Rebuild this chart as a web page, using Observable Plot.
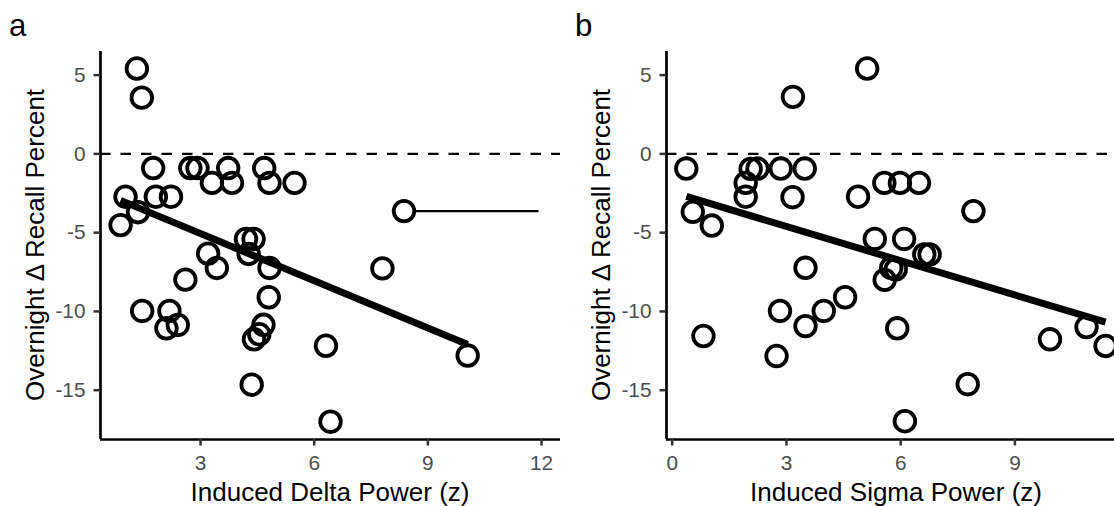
<!DOCTYPE html>
<html><head><meta charset="utf-8">
<script src="https://cdn.jsdelivr.net/npm/d3@7"></script>
<script src="https://cdn.jsdelivr.net/npm/@observablehq/plot@0.6"></script>
<style>
html,body{margin:0;padding:0;background:#fff;overflow:hidden}
#wrap{position:relative;width:1114px;height:506px;overflow:hidden;background:#fff}
#wrap svg{position:absolute;top:0}
</style></head><body><div id="wrap"></div>
<script>
// Panel a: induced delta power vs overnight change in recall
const deltaX = [1.32, 1.45, 1.75, 2.73, 2.92, 3.30, 3.73, 3.83, 4.68, 4.82, 5.48, 1.02, 1.82, 2.22, 0.89, 1.35, 8.37, 4.20, 4.40, 4.27, 3.20, 3.43, 4.82, 7.80, 2.60, 4.80, 1.46, 2.18, 2.10, 2.40, 4.66, 4.55, 4.41, 6.31, 10.05, 4.35, 6.43];
const deltaY = [5.42, 3.57, -0.90, -0.90, -0.90, -1.84, -0.90, -1.84, -0.90, -1.84, -1.84, -2.72, -2.72, -2.72, -4.52, -3.70, -3.63, -5.40, -5.40, -6.35, -6.33, -7.24, -7.24, -7.27, -7.98, -9.10, -9.97, -9.97, -11.07, -10.86, -10.85, -11.45, -11.77, -12.18, -12.80, -14.65, -17.00];
const deltaFitX = [0.89, 10.05];
const deltaFitY = [-2.95, -12.10];
const deltaSegX = [8.67, 11.92];
const deltaSegY = -3.63;

// Panel b: induced sigma power vs overnight change in recall
const sigmaX = [5.12, 3.17, 0.37, 2.06, 2.24, 2.85, 3.48, 1.93, 1.93, 3.16, 4.88, 5.57, 5.98, 6.48, 0.54, 1.04, 7.91, 5.32, 6.09, 6.62, 6.76, 3.50, 5.58, 5.87, 5.75, 4.54, 2.83, 3.98, 3.50, 0.82, 5.91, 2.74, 9.92, 10.88, 11.38, 7.76, 6.11];
const sigmaY = [5.42, 3.62, -0.93, -0.95, -0.93, -0.93, -0.93, -1.84, -2.72, -2.75, -2.72, -1.84, -1.84, -1.84, -3.68, -4.55, -3.63, -5.40, -5.40, -6.38, -6.38, -7.23, -8.00, -7.33, -7.24, -9.10, -9.97, -9.97, -10.93, -11.56, -11.07, -12.83, -11.77, -10.99, -12.19, -14.62, -16.97];
const sigmaFitX = [0.37, 11.38];
const sigmaFitY = [-2.70, -10.68];

const yTicks = [-15, -10, -5, 0, 5];
const deltaTicks = [3, 6, 9, 12];
const sigmaTicks = [0, 3, 6, 9];
const yTitle = "Overnight \u0394 Recall Percent";
const FONT = "'Liberation Sans', Arial, Helvetica, sans-serif";
const yDomain = [-18.13, 6.5];

function panel({tag, xs, ys, fitX, fitY, xDomain, xTicks, xTitle, segX, segY, left}) {
  const pts = xs.map((x, i) => ({x, y: ys[i]}));
  const fit = fitX.map((x, i) => ({x, y: fitY[i]}));
  const marks = [
    Plot.ruleY([0], {stroke: "black", strokeWidth: 2.4, strokeDasharray: "10.5,10"}),
    Plot.dot(pts, {x: "x", y: "y", r: 10.3, stroke: "black", strokeWidth: 3.8, fill: "none"}),
    Plot.line(fit, {x: "x", y: "y", stroke: "black", strokeWidth: 7, strokeLinecap: "butt"}),
    Plot.ruleX([xDomain[0]], {stroke: "black", strokeWidth: 2.7}),
    Plot.ruleY([yDomain[0]], {stroke: "black", strokeWidth: 2.7}),
    Plot.axisX({ticks: xTicks, tickSize: 6.5, tickPadding: 9.2, fontSize: 20.8, fill: "#4d4d4d", stroke: "#333", strokeWidth: 2.5, label: null, tickFormat: d => String(d)}),
    Plot.axisY({ticks: yTicks, tickSize: 6.5, tickPadding: 8.5, fontSize: 20.8, fill: "#4d4d4d", stroke: "#333", strokeWidth: 2.5, label: null, tickFormat: d => String(d)})
  ];
  if (segX) marks.push(Plot.link([{x1: segX[0], x2: segX[1], y: segY}], {x1: "x1", x2: "x2", y1: "y", y2: "y", stroke: "black", strokeWidth: 2.4}));
  const svg = Plot.plot({
    width: 566, height: 506,
    marginLeft: 100, marginRight: 6, marginTop: 51, marginBottom: 67,
    x: {domain: xDomain},
    y: {domain: yDomain},
    style: {fontFamily: FONT, background: "white", overflow: "visible"},
    marks
  });
  svg.style.left = left + "px";
  const s = d3.select(svg);
  s.append("text").attr("x", 9).attr("y", 35.7).attr("text-anchor", "start").attr("font-size", 31.2).attr("font-family", FONT).attr("fill", "black").text(tag);
  s.append("text").attr("transform", "translate(43.5,245) rotate(-90)").attr("text-anchor", "middle")
    .attr("font-size", 26).attr("font-family", FONT).attr("fill", "black").text(yTitle);
  s.append("text").attr("x", 330).attr("y", 501).attr("text-anchor", "middle")
    .attr("font-size", 26).attr("font-family", FONT).attr("fill", "black").text(xTitle);
  return svg;
}

const wrap = document.getElementById("wrap");
wrap.appendChild(panel({tag: "a", xs: deltaX, ys: deltaY, fitX: deltaFitX, fitY: deltaFitY,
  xDomain: [0.36, 12.5], xTicks: deltaTicks, xTitle: "Induced Delta Power (z)", segX: deltaSegX, segY: deltaSegY, left: 0}));
wrap.appendChild(panel({tag: "b", xs: sigmaX, ys: sigmaY, fitX: sigmaFitX, fitY: sigmaFitY,
  xDomain: [-0.15, 11.93], xTicks: sigmaTicks, xTitle: "Induced Sigma Power (z)", left: 566}));
</script></body></html>
